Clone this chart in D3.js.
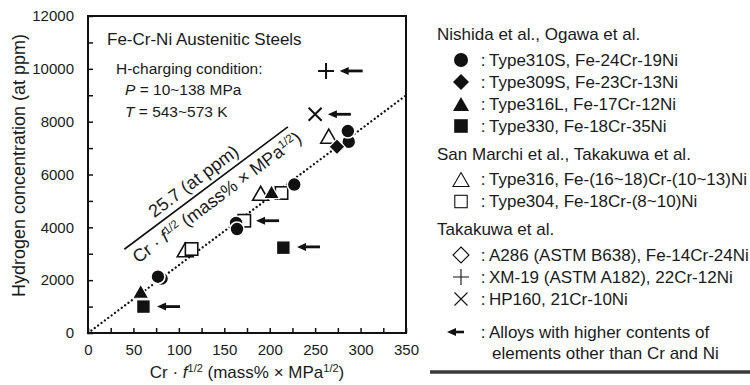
<!DOCTYPE html>
<html><head><meta charset="utf-8">
<script src="https://cdn.jsdelivr.net/npm/d3@7"></script>
<style>
body{margin:0;background:#fff}
svg{display:block;font-family:"Liberation Sans",Arial,Helvetica,sans-serif;}
</style>
</head><body><svg id="c" width="750" height="385"></svg>
<script>
// ---------- data ----------
const xTickValues = d3.range(0, 351, 25);
const xTickLabels = [0, 50, 100, 150, 200, 250, 300, 350];
const yTickValues = d3.range(0, 12001, 1000);
const yTickLabels = [0, 2000, 4000, 6000, 8000, 10000, 12000];

const slope = 25.7;                       // dotted fit: H = 25.7 * Cr·f^1/2
const annotLine = [[40, 3170], [220, 7800]];

const openTri316   = [[107, 3150], [190, 5290], [265, 7450]];
const openSq304    = [[114, 3180], [172, 4250], [213, 5300]];
const filledTri316L = [[58, 1580], [202, 5350]];
const filledSq330  = [[61, 1000], [215, 3230]];
const circ310S     = [[81, 2060], [77, 2130], [163, 4165], [164, 3936], [227, 5620], [287, 7240], [286, 7646]];
const diam309S     = [[274, 7050]];
const plusXM19     = [[262, 9920]];
const crossHP160   = [[250, 8280]];
const arrowHeads   = [[277, 9920], [264, 8280], [185, 4250], [230, 3260], [76, 1000]];

const legendGroups = [
  {header: "Nishida et al., Ogawa et al.", items: [
    {sym: "circle", fill: true, label: "Type310S, Fe-24Cr-19Ni"},
    {sym: "diamond", fill: true, label: "Type309S, Fe-23Cr-13Ni"},
    {sym: "triangle", fill: true, label: "Type316L, Fe-17Cr-12Ni"},
    {sym: "square", fill: true, label: "Type330, Fe-18Cr-35Ni"}]},
  {header: "San Marchi et al., Takakuwa et al.", items: [
    {sym: "triangle", fill: false, label: "Type316, Fe-(16~18)Cr-(10~13)Ni"},
    {sym: "square", fill: false, label: "Type304, Fe-18Cr-(8~10)Ni"}]},
  {header: "Takakuwa et al.", items: [
    {sym: "diamond", fill: false, label: "A286 (ASTM B638), Fe-14Cr-24Ni"},
    {sym: "plus", fill: false, label: "XM-19 (ASTM A182), 22Cr-12Ni"},
    {sym: "cross", fill: false, label: "HP160, 21Cr-10Ni"}]}
];
const arrowLegend = ["Alloys with higher contents of", "elements other than Cr and Ni"];

// ---------- setup ----------
const svg = d3.select("#c");
const L = 88, R = 406, T = 16, B = 333;
const x = d3.scaleLinear().domain([0, 350]).range([L, R]);
const y = d3.scaleLinear().domain([0, 12000]).range([B, T]);
const ink = "#111";
const txt = "#1a1a1a";

// axes (inward ticks)
const xAxis = d3.axisBottom(x).tickValues(xTickValues).tickSizeInner(-5).tickSizeOuter(0)
  .tickPadding(11).tickFormat(d => xTickLabels.includes(d) ? d : "");
const gx = svg.append("g").attr("transform", `translate(0,${B})`).call(xAxis);
gx.select(".domain").remove();
gx.selectAll("line").attr("stroke", ink).attr("stroke-width", 1.5);
gx.selectAll("text").attr("font-size", 15).attr("fill", txt).attr("font-family", null);

const yAxis = d3.axisLeft(y).tickValues(yTickValues).tickSizeInner(-5).tickSizeOuter(0)
  .tickPadding(14).tickFormat(d => yTickLabels.includes(d) ? d : "");
const gy = svg.append("g").attr("transform", `translate(${L},0)`).call(yAxis);
gy.select(".domain").remove();
gy.selectAll("line").attr("stroke", ink).attr("stroke-width", 1.5);
gy.selectAll("text").attr("font-size", 15).attr("fill", txt).attr("font-family", null);

// frame
svg.append("rect").attr("x", L).attr("y", T).attr("width", R - L).attr("height", B - T)
  .attr("fill", "none").attr("stroke", ink).attr("stroke-width", 2);

// axis titles
function crLabel(t, big, sup) {
  t.append("tspan").text("Cr \u00B7 ");
  t.append("tspan").attr("font-style", "italic").text("f");
  t.append("tspan").attr("font-size", sup).attr("dy", -6).text("1/2");
  t.append("tspan").attr("dy", 6).text(" (mass% \u00D7 MPa");
  t.append("tspan").attr("font-size", sup).attr("dy", -6).text("1/2");
  t.append("tspan").attr("dy", 6).text(")");
}
const xt = svg.append("text").attr("x", 247).attr("y", 372).attr("dy", "0.35em")
  .attr("text-anchor", "middle").attr("font-size", 17).attr("fill", txt);
crLabel(xt, 17, 11);

svg.append("text").attr("transform", "translate(19,165.5) rotate(-90)").attr("dy", "0.35em")
  .attr("text-anchor", "middle").attr("font-size", 18).attr("fill", txt)
  .text("Hydrogen concentration (at ppm)");

// in-plot texts
svg.append("text").attr("x", 107).attr("y", 39.5).attr("dy", "0.35em").attr("font-size", 17)
  .attr("fill", txt).text("Fe-Cr-Ni Austenitic Steels");
svg.append("text").attr("x", 116).attr("y", 68.5).attr("dy", "0.35em").attr("font-size", 15.5)
  .attr("fill", txt).text("H-charging condition:");
const tp = svg.append("text").attr("x", 125).attr("y", 90).attr("dy", "0.35em").attr("font-size", 15.5).attr("fill", txt);
tp.append("tspan").attr("font-style", "italic").text("P");
tp.append("tspan").text(" = 10~138 MPa");
const tt = svg.append("text").attr("x", 125).attr("y", 112).attr("dy", "0.35em").attr("font-size", 15.5).attr("fill", txt);
tt.append("tspan").attr("font-style", "italic").text("T");
tt.append("tspan").text(" = 543~573 K");

// dotted fit line
svg.append("line")
  .attr("x1", x(0)).attr("y1", y(0)).attr("x2", x(350)).attr("y2", y(slope * 350))
  .attr("stroke", ink).attr("stroke-width", 2.3).attr("stroke-linecap", "round")
  .attr("stroke-dasharray", "0.01 4.2");

// annotation (fraction) line and text
const ax1 = x(annotLine[0][0]), ay1 = y(annotLine[0][1]);
const ax2 = x(annotLine[1][0]), ay2 = y(annotLine[1][1]);
svg.append("line").attr("x1", ax1).attr("y1", ay1).attr("x2", ax2).attr("y2", ay2)
  .attr("stroke", ink).attr("stroke-width", 1.6);
const ang = Math.atan2(ay2 - ay1, ax2 - ax1) * 180 / Math.PI;
const mx = (ax1 + ax2) / 2, my = (ay1 + ay2) / 2;
const ag = svg.append("g").attr("transform", `translate(${mx},${my}) rotate(${ang})`);
ag.append("text").attr("x", -6).attr("y", -7).attr("text-anchor", "middle").attr("font-size", 18)
  .attr("fill", txt).text("25.7 (at ppm)");
const low = ag.append("text").attr("x", 3).attr("y", 20).attr("text-anchor", "middle")
  .attr("font-size", 18).attr("fill", txt);
crLabel(low, 18, 11.5);

// ---------- symbols ----------
function symbol(g, type, cx, cy, fill, sw, sc) {
  sc = sc || 1;
  const col = ink;
  if (type === "circle") {
    g.append("circle").attr("cx", cx).attr("cy", cy).attr("r", 7 * sc)
      .attr("fill", fill ? col : "#fff").attr("stroke", fill ? "#fff" : col).attr("stroke-width", sw);
  } else if (type === "square") {
    const s = (fill ? 6.8 : 6.2) * sc;
    g.append("rect").attr("x", cx - s).attr("y", cy - s).attr("width", 2 * s).attr("height", 2 * s)
      .attr("fill", fill ? col : "#fff").attr("stroke", fill ? "#fff" : col).attr("stroke-width", sw);
  } else if (type === "triangle") {
    const w = 8 * sc, h = 7 * sc;
    g.append("path").attr("d", `M${cx},${cy - h}L${cx + w},${cy + h}L${cx - w},${cy + h}Z`)
      .attr("fill", fill ? col : "#fff").attr("stroke", fill ? "#fff" : col).attr("stroke-width", sw)
      .attr("stroke-linejoin", "miter");
  } else if (type === "diamond") {
    const a = 8 * sc;
    g.append("path").attr("d", `M${cx},${cy - a}L${cx + a},${cy}L${cx},${cy + a}L${cx - a},${cy}Z`)
      .attr("fill", fill ? col : "#fff").attr("stroke", fill ? "#fff" : col).attr("stroke-width", sw);
  } else if (type === "plus") {
    const a = 8 * sc;
    g.append("path").attr("d", `M${cx - a},${cy}H${cx + a}M${cx},${cy - a}V${cy + a}`)
      .attr("fill", "none").attr("stroke", col).attr("stroke-width", sw);
  } else if (type === "cross") {
    const a = 6.5 * sc;
    g.append("path").attr("d", `M${cx - a},${cy - a}L${cx + a},${cy + a}M${cx + a},${cy - a}L${cx - a},${cy + a}`)
      .attr("fill", "none").attr("stroke", col).attr("stroke-width", sw);
  }
}
function arrow(g, hx, hy, len, lw) {
  g.append("line").attr("x1", hx + 6).attr("y1", hy).attr("x2", hx + len).attr("y2", hy)
    .attr("stroke", ink).attr("stroke-width", lw);
  g.append("path").attr("d", `M${hx},${hy}L${hx + 9},${hy - 4}L${hx + 9},${hy + 4}Z`).attr("fill", ink);
}

const pts = svg.append("g");
openTri316.forEach(d => symbol(pts, "triangle", x(d[0]), y(d[1]), false, 1.6));
openSq304.forEach(d => symbol(pts, "square", x(d[0]), y(d[1]), false, 1.6));
filledTri316L.forEach(d => symbol(pts, "triangle", x(d[0]), y(d[1]), true, 1.2));
filledSq330.forEach(d => symbol(pts, "square", x(d[0]), y(d[1]), true, 1.2));
circ310S.forEach(d => symbol(pts, "circle", x(d[0]), y(d[1]), true, 1.6));
diam309S.forEach(d => symbol(pts, "diamond", x(d[0]), y(d[1]), true, 1.2));
plusXM19.forEach(d => symbol(pts, "plus", x(d[0]), y(d[1]), false, 2));
crossHP160.forEach(d => symbol(pts, "cross", x(d[0]), y(d[1]), false, 2));
arrowHeads.forEach(d => arrow(pts, x(d[0]), y(d[1]), 23, 2.8));

// ---------- legend ----------
const lg = svg.append("g");
let ly = 34.5;
legendGroups.forEach(grp => {
  lg.append("text").attr("x", 437).attr("y", ly).attr("dy", "0.35em").attr("font-size", 17)
    .attr("fill", txt).text(grp.header);
  ly += 25.5;
  grp.items.forEach(it => {
    symbol(lg, it.sym, 461, ly, it.fill, it.fill ? 0 : 1.1, 1);
    lg.append("text").attr("x", 483).attr("y", ly).attr("dy", "0.35em").attr("text-anchor", "middle")
      .attr("font-size", 17).attr("fill", txt).text(":");
    lg.append("text").attr("x", 489).attr("y", ly).attr("dy", "0.35em").attr("font-size", 17)
      .attr("fill", txt).text(it.label);
    ly += 22;
  });
  ly += 6;
});
ly += 5;
arrow(lg, 447, ly, 17, 2.6);
lg.append("text").attr("x", 483).attr("y", ly).attr("dy", "0.35em").attr("text-anchor", "middle")
  .attr("font-size", 17).attr("fill", txt).text(":");
lg.append("text").attr("x", 489).attr("y", ly).attr("dy", "0.35em").attr("font-size", 17)
  .attr("fill", txt).text(arrowLegend[0]);
lg.append("text").attr("x", 492).attr("y", ly + 21).attr("dy", "0.35em").attr("font-size", 17)
  .attr("fill", txt).text(arrowLegend[1]);
svg.append("line").attr("x1", 430).attr("x2", 750).attr("y1", 372).attr("y2", 372)
  .attr("stroke", "#3a3a3a").attr("stroke-width", 3.5);
</script>
</body></html>
